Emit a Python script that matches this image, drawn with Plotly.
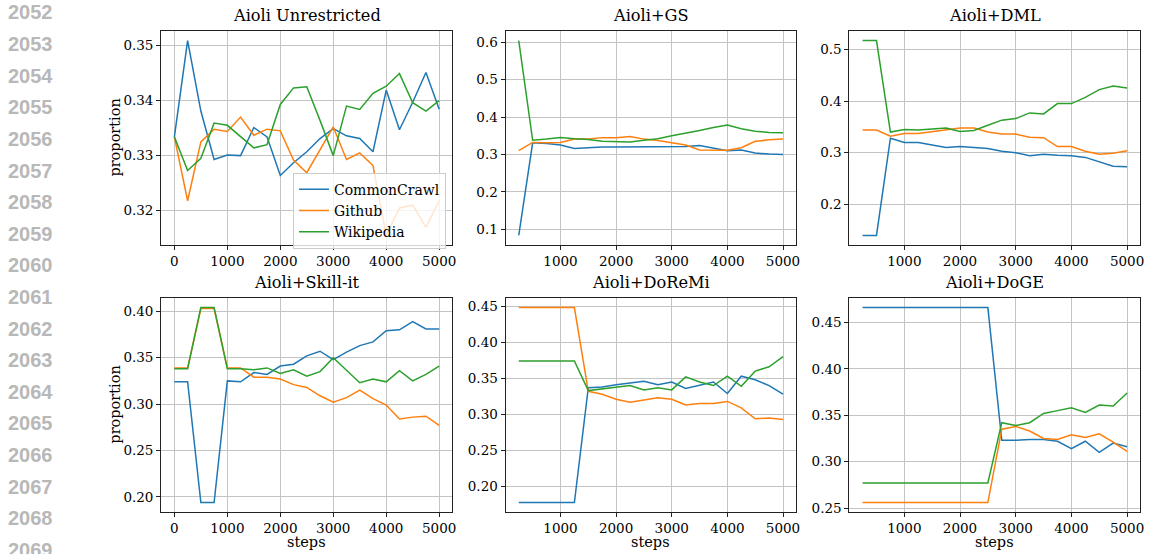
import plotly.graph_objects as go

W, H = 1150, 554

steps_full = [0, 250, 500, 750, 1000, 1250, 1500, 1750, 2000, 2250, 2500, 2750,
              3000, 3250, 3500, 3750, 4000, 4250, 4500, 4750, 5000]
steps_250 = steps_full[1:]

series_names = ["CommonCrawl", "Github", "Wikipedia"]
colors = ["#1f77b4", "#ff7f0e", "#2ca02c"]

# Aioli Unrestricted (x from 0)
unres_cc = [0.3334, 0.3509, 0.3381, 0.3293, 0.3301, 0.3300, 0.3351, 0.3334, 0.3264, 0.3287, 0.3307,
            0.3331, 0.3349, 0.3336, 0.3331, 0.3307, 0.3419, 0.3347, 0.3397, 0.3451, 0.3384]
unres_gh = [0.3334, 0.3218, 0.3325, 0.3348, 0.3344, 0.3370, 0.3337, 0.3348, 0.3345, 0.3292, 0.3269,
            0.3311, 0.3352, 0.3293, 0.3305, 0.3282, 0.3155, 0.3205, 0.3210, 0.3170, 0.3218]
unres_wk = [0.3334, 0.3273, 0.3295, 0.3359, 0.3355, 0.3334, 0.3314, 0.3320, 0.3393, 0.3423, 0.3425,
            0.3364, 0.3300, 0.3390, 0.3384, 0.3413, 0.3426, 0.3449, 0.3396, 0.3381, 0.3400]

# Aioli+GS (x from 250)
gs_cc = [0.083, 0.331, 0.329, 0.325, 0.316, 0.319, 0.320, 0.320, 0.320, 0.321, 0.321,
         0.319, 0.321, 0.324, 0.316, 0.310, 0.312, 0.304, 0.301, 0.300]
gs_gh = [0.310, 0.332, 0.331, 0.332, 0.341, 0.341, 0.345, 0.345, 0.348, 0.341, 0.337,
         0.332, 0.325, 0.312, 0.312, 0.311, 0.318, 0.335, 0.339, 0.341]
gs_wk = [0.605, 0.338, 0.341, 0.345, 0.342, 0.340, 0.335, 0.335, 0.333, 0.338, 0.342,
         0.350, 0.356, 0.364, 0.372, 0.379, 0.369, 0.362, 0.359, 0.358]

# Aioli+DML (x from 250)
dml_cc = [0.140, 0.140, 0.328, 0.320, 0.320, 0.315, 0.310, 0.312, 0.310, 0.308, 0.303,
          0.300, 0.294, 0.297, 0.295, 0.294, 0.291, 0.283, 0.274, 0.273]
dml_gh = [0.344, 0.344, 0.332, 0.337, 0.337, 0.341, 0.344, 0.348, 0.348, 0.340, 0.336,
          0.336, 0.330, 0.329, 0.312, 0.312, 0.303, 0.297, 0.299, 0.304]
dml_wk = [0.517, 0.517, 0.340, 0.345, 0.344, 0.346, 0.348, 0.341, 0.343, 0.353, 0.363,
          0.366, 0.377, 0.375, 0.395, 0.395, 0.407, 0.422, 0.429, 0.425]

# Aioli+Skill-it (x from 0)
skill_cc = [0.324, 0.324, 0.194, 0.194, 0.325, 0.324, 0.334, 0.332, 0.341, 0.343, 0.352,
            0.357, 0.348, 0.356, 0.363, 0.367, 0.379, 0.380, 0.389, 0.381, 0.381]
skill_gh = [0.339, 0.339, 0.403, 0.403, 0.339, 0.339, 0.329, 0.329, 0.327, 0.321, 0.318,
            0.309, 0.302, 0.307, 0.315, 0.306, 0.299, 0.284, 0.286, 0.287, 0.277]
skill_wk = [0.338, 0.338, 0.404, 0.404, 0.338, 0.338, 0.337, 0.339, 0.333, 0.337, 0.330,
            0.335, 0.350, 0.336, 0.323, 0.327, 0.324, 0.336, 0.325, 0.332, 0.341]

# Aioli+DoReMi (x from 250)
doremi_cc = [0.178, 0.178, 0.178, 0.178, 0.178, 0.337, 0.338, 0.341, 0.344, 0.346, 0.341,
             0.345, 0.336, 0.341, 0.345, 0.329, 0.353, 0.348, 0.340, 0.328]
doremi_gh = [0.448, 0.448, 0.448, 0.448, 0.448, 0.332, 0.328, 0.321, 0.317, 0.320, 0.323,
             0.321, 0.313, 0.315, 0.315, 0.318, 0.309, 0.294, 0.295, 0.293]
doremi_wk = [0.374, 0.374, 0.374, 0.374, 0.374, 0.333, 0.335, 0.338, 0.340, 0.334, 0.337,
             0.334, 0.352, 0.345, 0.340, 0.353, 0.339, 0.360, 0.366, 0.380]

# Aioli+DoGE (x from 250)
doge_cc = [0.466] * 10 + [0.323, 0.323, 0.324, 0.324, 0.322, 0.314, 0.322, 0.310, 0.320, 0.316]
doge_gh = [0.256] * 10 + [0.335, 0.338, 0.333, 0.325, 0.324, 0.329, 0.326, 0.330, 0.321, 0.311]
doge_wk = [0.277] * 10 + [0.342, 0.339, 0.342, 0.352, 0.355, 0.358, 0.353, 0.361, 0.360, 0.374]

titles = ["Aioli Unrestricted", "Aioli+GS", "Aioli+DML",
          "Aioli+Skill-it", "Aioli+DoReMi", "Aioli+DoGE"]
panel_x = [steps_full, steps_250, steps_250, steps_full, steps_250, steps_250]
panel_data = [
    [unres_cc, unres_gh, unres_wk],
    [gs_cc, gs_gh, gs_wk],
    [dml_cc, dml_gh, dml_wk],
    [skill_cc, skill_gh, skill_wk],
    [doremi_cc, doremi_gh, doremi_wk],
    [doge_cc, doge_gh, doge_wk],
]
y_dticks = [0.01, 0.1, 0.1, 0.05, 0.05, 0.05]
y_formats = [".2f", ".1f", ".1f", ".2f", ".2f", ".2f"]

line_numbers = list(range(2052, 2070))

# layout geometry in pixels
col_px = [(161.7, 454.0), (507.3, 799.0), (852.3, 1144.3)]
row_px = [(31.0, 247.0), (300.0, 516.0)]


def px_x(p):
    return p / W


def px_y(p):
    return 1 - p / H


FONT = "DejaVu Serif"
TICK_SIZE = 13.5
LABEL_SIZE = 14.5
fig = go.Figure()
annotations = []

for i in range(6):
    r, c = divmod(i, 3)
    ax = "" if i == 0 else str(i + 1)
    xs = panel_x[i]
    for k, ys in enumerate(panel_data[i]):
        fig.add_trace(go.Scatter(
            x=xs, y=ys, mode="lines", name=series_names[k],
            line=dict(color=colors[k], width=1.5),
            xaxis="x" + ax, yaxis="y" + ax,
            showlegend=(i == 0),
        ))
    allv = [v for s in panel_data[i] for v in s]
    lo, hi = min(allv), max(allv)
    pad = 0.05 * (hi - lo)
    xlo, xhi = min(xs), max(xs)
    xpad = 0.05 * (xhi - xlo)
    common = dict(showline=True, mirror=True, linecolor="#222222", linewidth=1,
                  ticks="outside", ticklen=4, tickwidth=1, tickcolor="#222222",
                  showgrid=True, gridcolor="#c4c4c4", gridwidth=1, zeroline=False,
                  tickfont=dict(family=FONT, size=TICK_SIZE, color="black"))
    fig.layout["xaxis" + ax] = dict(
        domain=[px_x(col_px[c][0]), px_x(col_px[c][1])],
        range=[xlo - xpad, xhi + xpad], dtick=1000, tick0=0,
        anchor="y" + ax, **common)
    fig.layout["yaxis" + ax] = dict(
        domain=[px_y(row_px[r][1]), px_y(row_px[r][0])],
        range=[lo - pad, hi + pad], dtick=y_dticks[i], tick0=0,
        tickformat=y_formats[i], anchor="x" + ax, **common)
    annotations.append(dict(
        text=titles[i], xref="paper", yref="paper",
        x=px_x((col_px[c][0] + col_px[c][1]) / 2), y=px_y(row_px[r][0] - 4),
        xanchor="center", yanchor="bottom", showarrow=False,
        font=dict(family=FONT, size=16.2, color="black")))

for r in range(2):
    annotations.append(dict(
        text="proportion", xref="paper", yref="paper", textangle=-90,
        x=px_x(115), y=px_y((row_px[r][0] + row_px[r][1]) / 2),
        xanchor="center", yanchor="middle", showarrow=False,
        font=dict(family=FONT, size=LABEL_SIZE, color="black")))
for c in range(3):
    annotations.append(dict(
        text="steps", xref="paper", yref="paper",
        x=px_x((col_px[c][0] + col_px[c][1]) / 2), y=px_y(545.5),
        xanchor="center", yanchor="middle", showarrow=False,
        font=dict(family=FONT, size=LABEL_SIZE, color="black")))

for j, num in enumerate(line_numbers):
    annotations.append(dict(
        text="<b>%d</b>" % num, xref="paper", yref="paper",
        x=px_x(6), y=px_y(12.5 + 31.85 * j),
        xanchor="left", yanchor="middle", showarrow=False,
        font=dict(family="Liberation Sans", size=20, color="#b8b8b8")))

fig.update_layout(
    width=W, height=H,
    margin=dict(l=0, r=0, t=0, b=0),
    paper_bgcolor="white", plot_bgcolor="white",
    annotations=annotations,
    showlegend=True,
    legend=dict(
        x=px_x(294), y=px_y(174), xanchor="left", yanchor="top",
        bgcolor="rgba(255,255,255,0.8)", bordercolor="#cccccc", borderwidth=1,
        font=dict(family=FONT, size=14, color="black"),
        itemwidth=30, tracegroupgap=0,
    ),
)

fig.write_html("out.html")
